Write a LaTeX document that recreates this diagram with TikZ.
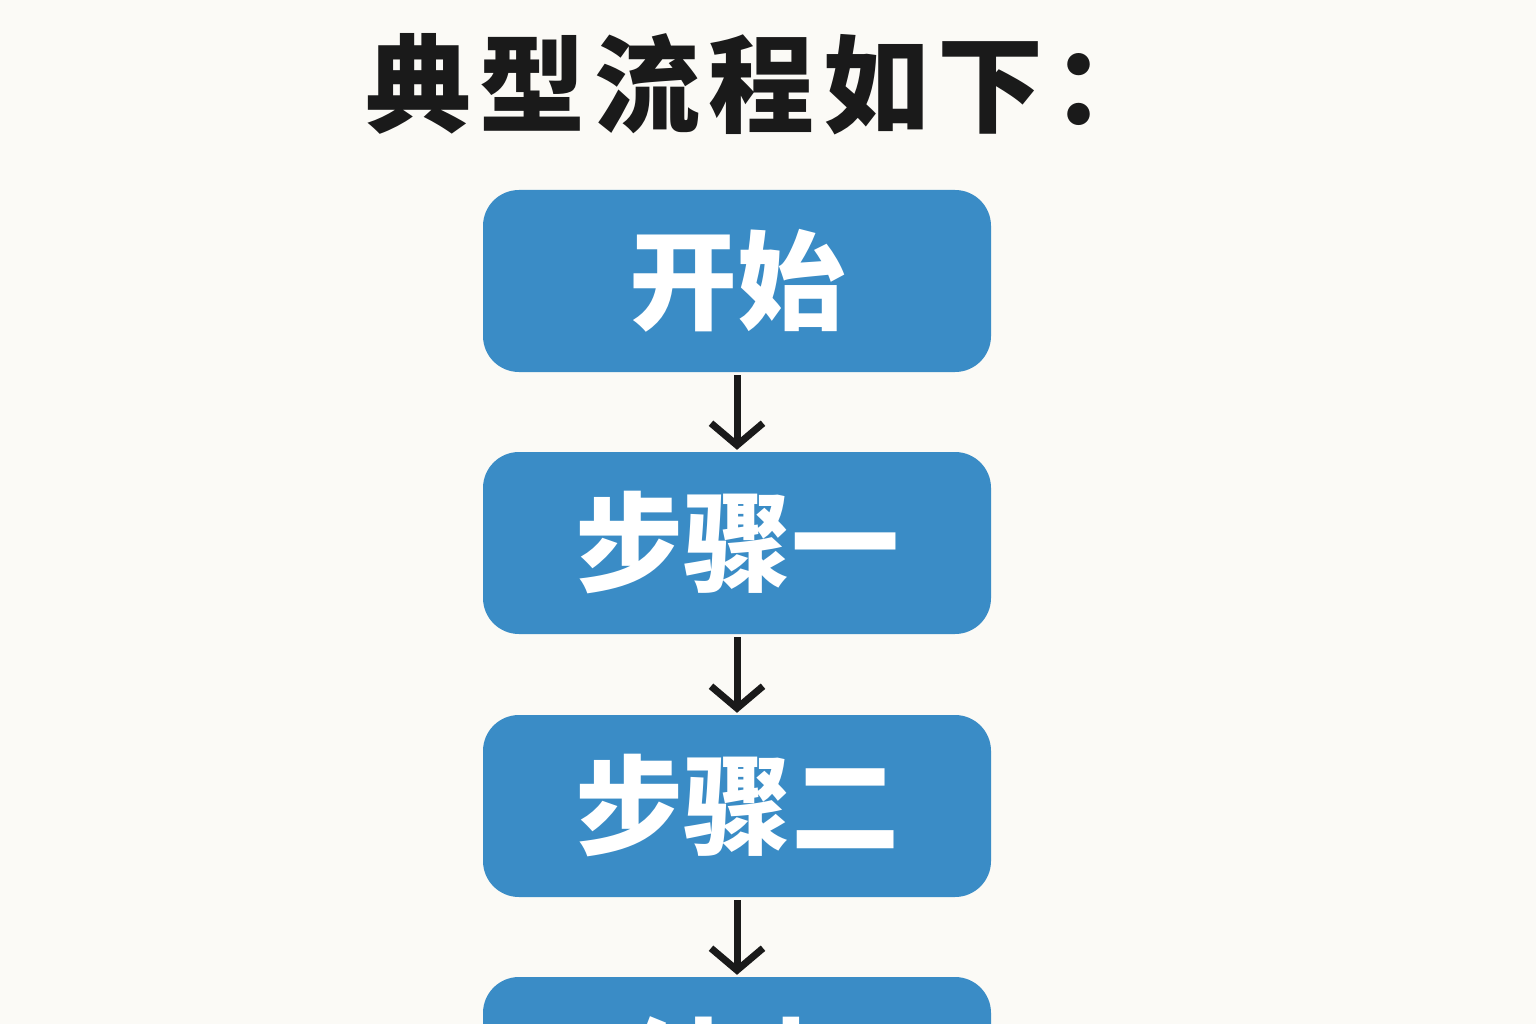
\documentclass[tikz,border=0pt]{standalone}
\usepackage{fontspec}
\newfontfamily\cjk{Noto Sans CJK SC}
\newfontfamily\cjkwide{Noto Sans CJK SC}[LetterSpace=8]
\usetikzlibrary{arrows.meta}
\definecolor{bg}{HTML}{FBFAF6}
\definecolor{boxblue}{HTML}{3A8CC6}
\definecolor{ink}{HTML}{1A1A1A}
\tikzset{
  stepbox/.style={fill=boxblue, rounded corners=36pt, minimum width=508pt, minimum height=182pt, inner sep=0pt, text=white, font=\cjk\bfseries\fontsize{108}{110}\selectfont},
  flow/.style={draw=ink, line width=7pt, shorten <=3pt, shorten >=2pt, -{Straight Barb[length=22pt,width=52pt,line width=7pt]}}
}
\begin{document}
\begin{tikzpicture}[x=1pt,y=-1pt]
\fill[bg] (0,0) rectangle (1536,1024);
\clip (0,0) rectangle (1536,1024);
\node[text=ink, font=\cjkwide\bfseries\fontsize{106}{108}\selectfont, anchor=center] (title) at (762,84) {典型流程如下：};
\node[stepbox] (s0) at (737,281) {开始};
\node[stepbox] (s1) at (737,543) {步骤一};
\node[stepbox] (s2) at (737,806) {步骤二};
\node[stepbox] (s3) at (737,1068) {结束};
\draw[flow] (s0.south) -- (s1.north);
\draw[flow] (s1.south) -- (s2.north);
\draw[flow] (s2.south) -- (s3.north);
\end{tikzpicture}
\end{document}
